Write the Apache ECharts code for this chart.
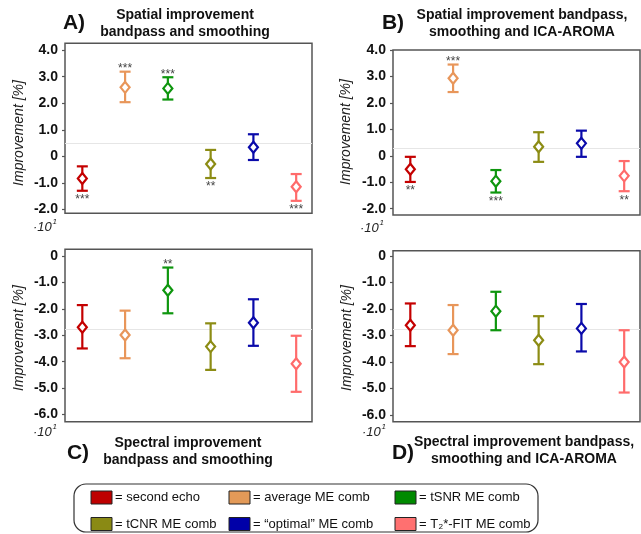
<!DOCTYPE html>
<html>
<head>
<meta charset="utf-8">
<script src="https://cdn.jsdelivr.net/npm/echarts@6/dist/echarts.min.js"></script>
<style>html,body{margin:0;padding:0;background:#fff}#c{width:641px;height:534px}</style>
</head>
<body>
<div id="c"></div>
<script>
// ---- data ----
const categories = ['second echo', 'average ME comb', 'tSNR ME comb', 'tCNR ME comb', '\u201Coptimal\u201D ME comb', 'T\u2082*-FIT ME comb'];
const xPos = [1, 2, 3, 4, 5, 6];
const colors = ['#C40000', '#E8965A', '#0E960E', '#8C8C14', '#0A0AAA', '#FF6B6B'];
const swatchColors = ['#BE0000', '#E39A58', '#008A00', '#8A8A14', '#0000A8', '#FF7070'];

const yTicksTop = [-2, -1, 0, 1, 2, 3, 4];
const yTicksBottom = [-6, -5, -4, -3, -2, -1, 0];

const meanA = [-0.84, 2.60, 2.56, -0.29, 0.34, -1.15];
const lowA  = [-1.30, 2.04, 2.14, -0.82, -0.14, -1.68];
const highA = [-0.38, 3.19, 2.98, 0.24, 0.83, -0.67];
const sigA = ['***', '***', '***', '**', '', '***'];
const sigPosA = ['below', 'above', 'above', 'below', '', 'below'];
const refA = 0.51;

const meanB = [-0.51, 2.93, -0.96, 0.34, 0.47, -0.76];
const lowB  = [-0.99, 2.41, -1.39, -0.23, -0.04, -1.34];
const highB = [-0.04, 3.45, -0.54, 0.89, 0.95, -0.20];
const sigB = ['**', '***', '***', '', '', '**'];
const sigPosB = ['below', 'above', 'below', '', '', 'below'];
const refB = 0.28;

const meanC = [-2.70, -2.99, -1.30, -3.43, -2.53, -4.08];
const lowC  = [-3.50, -3.87, -2.17, -4.31, -3.40, -5.14];
const highC = [-1.86, -2.07, -0.44, -2.55, -1.64, -3.02];
const sigC = ['', '', '**', '', '', ''];
const sigPosC = ['', '', 'above', '', '', ''];
const refC = -2.76;

const meanD = [-2.61, -2.80, -2.08, -3.18, -2.73, -4.00];
const lowD  = [-3.40, -3.70, -2.80, -4.08, -3.60, -5.15];
const highD = [-1.79, -1.85, -1.35, -2.27, -1.81, -2.80];
const sigD = ['', '', '', '', '', ''];
const sigPosD = ['', '', '', '', '', ''];
const refD = -2.77;

const panelTitles = [
  ['A)', 'Spatial improvement\nbandpass and smoothing'],
  ['B)', 'Spatial improvement bandpass,\nsmoothing and ICA-AROMA'],
  ['C)', 'Spectral improvement\nbandpass and smoothing'],
  ['D)', 'Spectral improvement bandpass,\nsmoothing and ICA-AROMA']
];
const yName = 'Improvement [%]';
const scaleText = '\u00B710';
const scaleExp = '1';

// ---- chart ----
const FONT = '"Liberation Sans", Arial, Helvetica, sans-serif';
const chart = echarts.init(document.getElementById('c'), null, {renderer: 'canvas'});

const panels = [
  {mean: meanA, low: lowA, high: highA, sig: sigA, sigPos: sigPosA, ref: refA, ticks: yTicksTop,
   grid: {left: 65, top: 43.3, width: 247, height: 170}, ymin: -2.15, ymax: 4.26},
  {mean: meanB, low: lowB, high: highB, sig: sigB, sigPos: sigPosB, ref: refB, ticks: yTicksTop,
   grid: {left: 393, top: 50, width: 247, height: 165}, ymin: -2.24, ymax: 4.0},
  {mean: meanC, low: lowC, high: highC, sig: sigC, sigPos: sigPosC, ref: refC, ticks: yTicksBottom,
   grid: {left: 65, top: 249.3, width: 247, height: 172.4}, ymin: -6.27, ymax: 0.25},
  {mean: meanD, low: lowD, high: highD, sig: sigD, sigPos: sigPosD, ref: refD, ticks: yTicksBottom,
   grid: {left: 393, top: 250.7, width: 247, height: 171}, ymin: -6.25, ymax: 0.2}
];

function makeRender(p) {
  return function (params, api) {
    const i = api.value(4);
    const x = api.value(0);
    const pm = api.coord([x, api.value(1)]);
    const pl = api.coord([x, api.value(2)]);
    const ph = api.coord([x, api.value(3)]);
    const c = colors[i];
    const cw = 5.5, dw = 4.5, dh = 5.5;
    const st = {stroke: c, lineWidth: 2.2};
    const children = [
      {type: 'line', shape: {x1: pm[0], y1: pl[1], x2: pm[0], y2: ph[1]}, style: st},
      {type: 'line', shape: {x1: pm[0] - cw, y1: ph[1], x2: pm[0] + cw, y2: ph[1]}, style: st},
      {type: 'line', shape: {x1: pm[0] - cw, y1: pl[1], x2: pm[0] + cw, y2: pl[1]}, style: st},
      {type: 'polygon', shape: {points: [[pm[0], pm[1] - dh], [pm[0] + dw, pm[1]], [pm[0], pm[1] + dh], [pm[0] - dw, pm[1]]]},
       style: {fill: '#fff', stroke: c, lineWidth: 2.2}}
    ];
    if (p.sig[i]) {
      const above = p.sigPos[i] === 'above';
      children.push({type: 'text', x: pm[0], y: above ? ph[1] - 3 : pl[1] + 9,
        style: {text: p.sig[i], fill: '#444', font: '12px ' + FONT, textAlign: 'center', textVerticalAlign: 'middle'}});
    }
    return {type: 'group', children: children};
  };
}

const grids = [], xAxes = [], yAxes = [], series = [];
panels.forEach((p, k) => {
  grids.push(Object.assign({show: true, borderColor: '#555', borderWidth: 1.5, backgroundColor: '#fff'}, p.grid));
  xAxes.push({type: 'value', gridIndex: k, min: 0.595, max: 6.37, show: false});
  yAxes.push({
    type: 'value', gridIndex: k, min: p.ymin, max: p.ymax,
    axisLine: {show: false},
    splitLine: {show: false},
    axisTick: {show: true, length: 3, lineStyle: {color: '#555', width: 1.2}, customValues: p.ticks},
    axisLabel: {customValues: p.ticks, margin: 7, color: '#111', fontSize: 14, fontWeight: 'bold', fontFamily: FONT,
      formatter: v => (Math.abs(v) < 1e-9 ? '0' : v.toFixed(1))}
  });
  series.push({
    type: 'line', xAxisIndex: k, yAxisIndex: k, data: [], silent: true, z: 1,
    markLine: {silent: true, symbol: 'none', label: {show: false},
      lineStyle: {color: '#e6e6e6', width: 1, type: 'solid'}, data: [{yAxis: p.ref}]}
  });
  series.push({
    type: 'custom', xAxisIndex: k, yAxisIndex: k, z: 5, silent: true,
    renderItem: makeRender(p),
    data: xPos.map((x, i) => [x, p.mean[i], p.low[i], p.high[i], i])
  });
});

// ---- graphics: titles, axis names, scale marks, legend ----
const graphic = [];
const titlePos = [
  {lx: 74, ly: 23, tx: 185, ty: 24},
  {lx: 393, ly: 23, tx: 522, ty: 24},
  {lx: 78, ly: 453, tx: 188, ty: 452},
  {lx: 403, ly: 453, tx: 524, ty: 451}
];
panelTitles.forEach((t, k) => {
  const tp = titlePos[k];
  graphic.push({type: 'text', x: tp.lx, y: tp.ly, style: {text: t[0], font: 'bold 21px ' + FONT, fill: '#111', textAlign: 'center', textVerticalAlign: 'middle'}});
  graphic.push({type: 'text', x: tp.tx, y: tp.ty, style: {text: t[1], font: 'bold 14px ' + FONT, fill: '#111', textAlign: 'center', textVerticalAlign: 'middle', lineHeight: 17}});
});
const yNamePos = [[19, 133], [346, 132], [19, 338], [347, 338]];
yNamePos.forEach(pp => {
  graphic.push({type: 'text', x: pp[0], y: pp[1], rotation: Math.PI / 2,
    style: {text: yName, font: 'italic 14px ' + FONT, fill: '#222', textAlign: 'center', textVerticalAlign: 'middle'}});
});
const scalePos = [[33, 227], [360, 228], [33, 432], [362, 432]];
scalePos.forEach(pp => {
  graphic.push({type: 'text', x: pp[0], y: pp[1], style: {text: scaleText, font: 'italic 13px ' + FONT, fill: '#222', textAlign: 'left', textVerticalAlign: 'middle'}});
  graphic.push({type: 'text', x: pp[0] + 19.5, y: pp[1] - 5, style: {text: scaleExp, font: 'italic 8px ' + FONT, fill: '#222', textAlign: 'left', textVerticalAlign: 'middle'}});
});

graphic.push({type: 'rect', shape: {x: 74, y: 484, width: 464, height: 48, r: 12},
  style: {fill: 'none', stroke: '#333', lineWidth: 1.2}});
const legCols = [91, 229, 395];
const legRows = [491, 517.5];
categories.forEach((name, i) => {
  const cx = legCols[i % 3], cy = legRows[Math.floor(i / 3)];
  graphic.push({type: 'rect', shape: {x: cx, y: cy, width: 21, height: 13}, style: {fill: swatchColors[i], stroke: '#222', lineWidth: 1}});
  graphic.push({type: 'text', x: cx + 24, y: cy + 6.5, style: {text: '= ' + name, font: '13px ' + FONT, fill: '#111', textAlign: 'left', textVerticalAlign: 'middle'}});
});

chart.setOption({
  animation: false,
  backgroundColor: '#fff',
  grid: grids,
  xAxis: xAxes,
  yAxis: yAxes,
  series: series,
  graphic: graphic
});
</script>
</body>
</html>
